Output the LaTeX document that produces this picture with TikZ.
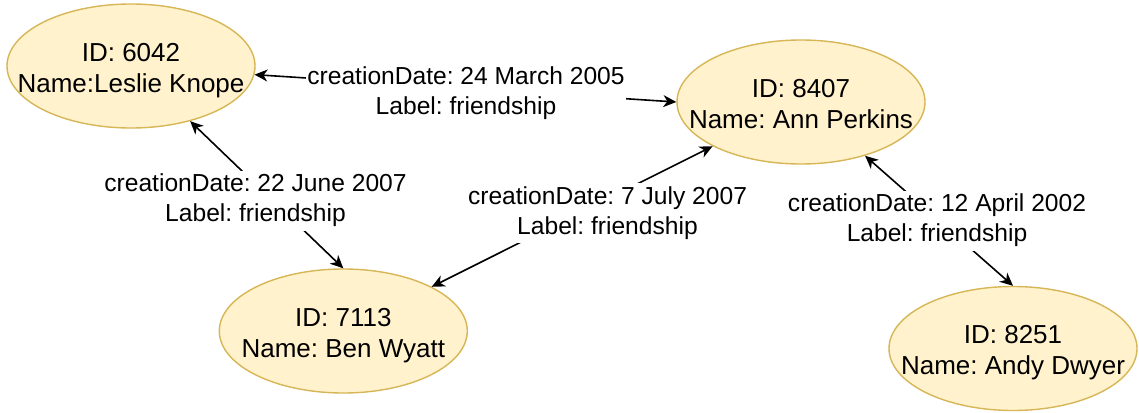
\documentclass[tikz,border=0pt]{standalone}
\usepackage{fontspec}
\setmainfont{Liberation Sans}
\usetikzlibrary{shapes.geometric,arrows.meta}
\definecolor{pfill}{HTML}{FFF2CC}
\definecolor{pdraw}{HTML}{D6B656}
\frenchspacing
\begin{document}
\begin{tikzpicture}[x=1pt,y=-1pt,
  person/.style={ellipse, draw=pdraw, fill=pfill, line width=1.4pt, minimum width=248pt, minimum height=124pt, inner sep=0pt},
  ptext/.style={align=center, font=\fontsize{26}{31}\selectfont, inner sep=0pt, yshift=-4.3pt},
  lbl/.style={align=center, font=\fontsize{24.6}{30}\selectfont, fill=white, inner xsep=1pt, inner ysep=0pt},
  tip/.tip={Stealth[length=13pt,width=12pt,inset=4pt]},
  conn/.style={line width=1.6pt, tip-tip}
]
\useasboundingbox (0,0) rectangle (1139,412);
% persons
\node[person] (p6042) at (131,66) {};
\node[person] (p8407) at (801,102) {};
\node[person] (p7113) at (343.3,331) {};
\node[person] (p8251) at (1013,348.5) {};
\node[ptext] (t6042) at (p6042) {\strut ID: 6042\\\strut Name:Leslie Knope};
\node[ptext] (t8407) at (p8407) {\strut ID: 8407\\\strut Name: Ann Perkins};
\node[ptext] (t7113) at (p7113) {\strut ID: 7113\\\strut Name: Ben Wyatt};
\node[ptext] (t8251) at (p8251) {\strut ID: 8251\\\strut Name: Andy Dwyer};
% connectors
\draw[conn] (p6042.-4.5) -- (p8407.west);
\draw[conn] (p6042.-43.5) -- (p7113.north);
\draw[conn] (p7113) -- (p8407);
\draw[conn] (p8407.-40.7) -- (p8251.north);
% labels
\node[lbl] (l1) at (466,93.7) {\strut creationDate: 24 March 2005\\\strut Label: friendship};
\node[lbl] (l2) at (255.5,200.7) {\strut creationDate: 22 June 2007\\\strut Label: friendship};
\node[lbl] (l3) at (607.5,213) {\strut creationDate: 7 July 2007\\\strut Label: friendship};
\node[lbl] (l4) at (937,220.7) {\strut creationDate: 12 April 2002\\\strut Label: friendship};
\end{tikzpicture}
\end{document}
